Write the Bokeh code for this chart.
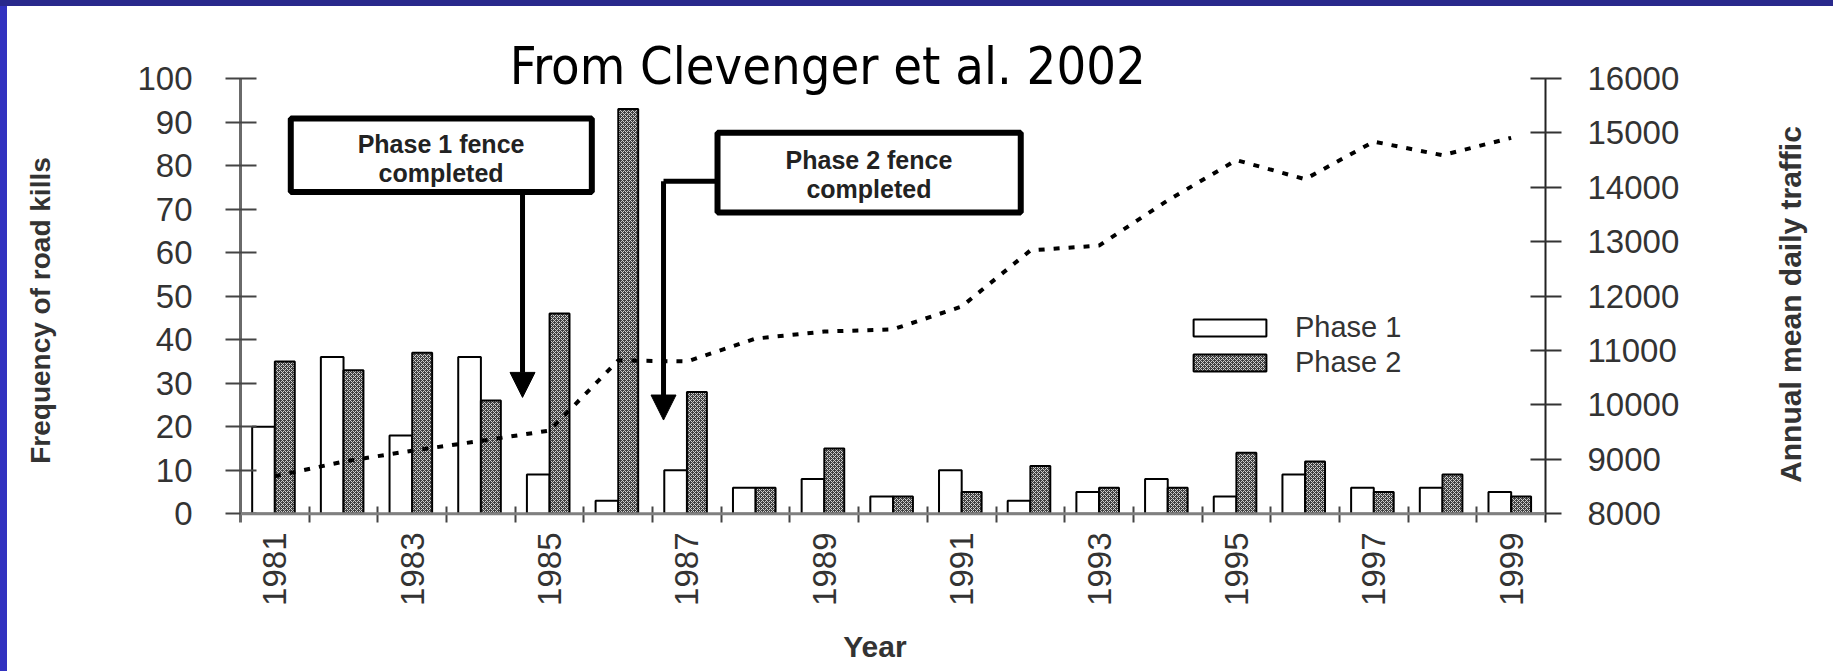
import numpy as np
from bokeh.plotting import figure
from bokeh.layouts import column, row
from bokeh.models import (Range1d, LinearAxis, FixedTicker, Span, BoxAnnotation, Label,
                          Arrow, NormalHead, Legend, LegendItem, ColumnDataSource,
                          NumeralTickFormatter, Div)
from bokeh.transform import dodge
from bokeh.embed import file_html
from bokeh.resources import INLINE

# ---------------- data ----------------
years = list(range(1981, 2000))
phase1 = [20, 36, 18, 36, 9, 3, 10, 6, 8, 4, 10, 3, 5, 8, 4, 9, 6, 6, 5]
phase2 = [35, 33, 37, 26, 46, 93, 28, 6, 15, 4, 5, 11, 6, 6, 14, 12, 5, 9, 4]
traffic = [8690, 8960, 9160, 9340, 9530, 10820, 10800, 11220, 11350, 11390,
           11810, 12840, 12930, 13760, 14500, 14150, 14840, 14590, 14910]
label_years = years[::2]
left_ticks = list(range(0, 101, 10))
right_ticks = list(range(8000, 16001, 1000))

FONT = "Liberation Sans"
TXT = "#333333"
H = 665          # height below the top band
MAIN_H = 614     # main plot height (rest is the "Year" strip)

src = ColumnDataSource(dict(year=years, phase1=phase1, phase2=phase2, traffic=traffic))

YTOP = 111.03
p = figure(width=1660, height=MAIN_H, output_backend="svg", toolbar_location=None,
           x_range=Range1d(1980.5, 1999.5), y_range=Range1d(-2, YTOP),
           min_border_left=160, min_border_right=195, min_border_top=24,
           min_border_bottom=MAIN_H - 24 - 492)
p.extra_y_ranges = {"traffic": Range1d(7840, 16000 + (YTOP - 100) * 80)}
p.outline_line_color = None
p.xgrid.visible = False
p.ygrid.visible = False

# ---- x axis ----
xa = p.xaxis[0]
xa.ticker = FixedTicker(ticks=label_years, minor_ticks=[y + 0.5 for y in years[:-1]])
xa.major_label_overrides = {y: str(y) for y in label_years}
xa.major_tick_in = 0
xa.major_tick_out = 0
xa.minor_tick_in = 16
xa.minor_tick_out = 0
xa.minor_tick_line_color = "#444444"
xa.minor_tick_line_width = 2
xa.axis_line_color = None
xa.major_label_orientation = np.pi / 2
xa.major_label_standoff = 10
xa.major_label_text_font = FONT
xa.major_label_text_font_size = "33px"
xa.major_label_text_color = TXT

# ---- left axis ----
ya = p.yaxis[0]
ya.ticker = FixedTicker(ticks=left_ticks)
ya.bounds = (-2, 100)
ya.major_tick_in = 16
ya.major_tick_out = 15
ya.major_tick_line_color = "#444444"
ya.major_tick_line_width = 2
ya.minor_tick_line_color = None
ya.axis_line_color = "#6a6a6a"
ya.axis_line_width = 3
ya.major_label_standoff = 33
ya.major_label_text_font = FONT
ya.major_label_text_font_size = "33px"
ya.major_label_text_color = TXT

# ---- right axis ----
ra = LinearAxis(y_range_name="traffic", ticker=FixedTicker(ticks=right_ticks),
                formatter=NumeralTickFormatter(format="0"))
ra.bounds = (7840, 16000)
ra.major_tick_in = 15
ra.major_tick_out = 16
ra.major_tick_line_color = "#333333"
ra.major_tick_line_width = 2
ra.minor_tick_line_color = None
ra.axis_line_color = "#222222"
ra.axis_line_width = 2
ra.major_label_standoff = 26
ra.major_label_text_font = FONT
ra.major_label_text_font_size = "33px"
ra.major_label_text_color = TXT
p.add_layout(ra, "right")

# baseline at zero
p.add_layout(Span(location=0, dimension="width", line_color="#808080", line_width=3))

# ---- bars ----
r1 = p.vbar(x=dodge("year", -0.165, range=p.x_range), top="phase1", width=0.33,
            source=src, fill_color="white", line_color="black", line_width=2)
r2 = p.vbar(x=dodge("year", 0.145, range=p.x_range), top="phase2", width=0.29,
            source=src, fill_color="#404040", hatch_pattern="diagonal_cross",
            hatch_color="#cfcfcf", hatch_scale=4, hatch_weight=1,
            line_color="black", line_width=2)

# ---- traffic line ----
p.line("year", "traffic", source=src, y_range_name="traffic", line_color="black",
       line_width=4, line_dash="6 9")

# ---- annotation boxes & arrows ----
BOX_FONT_SIZE = "25px"
box1 = dict(left=1981.232, right=1985.615, top=90.8, bottom=73.95)
box2 = dict(left=1987.445, right=1991.86, top=87.52, bottom=69.2)
for b in (box1, box2):
    p.add_layout(BoxAnnotation(fill_color="white", fill_alpha=1, line_color="black",
                               line_width=6, line_alpha=1, **b))

for x, y, t in [(1983.42, 84.9, "Phase 1 fence"), (1983.42, 78.24, "completed"),
                (1989.65, 81.31, "Phase 2 fence"), (1989.65, 74.71, "completed")]:
    p.add_layout(Label(x=x, y=y, text=t, text_align="center", text_baseline="alphabetic",
                       text_font=FONT, text_font_style="bold",
                       text_font_size=BOX_FONT_SIZE, text_color="#222222"))

p.add_layout(Arrow(end=NormalHead(size=25, fill_color="black", line_color="black"),
                   x_start=1984.606, y_start=73.95, x_end=1984.606, y_end=26.74,
                   line_width=5, line_color="black"))
p.add_layout(Arrow(end=None, x_start=1987.445, y_start=76.39, x_end=1986.659,
                   y_end=76.39, line_width=5, line_color="black"))
p.add_layout(Arrow(end=NormalHead(size=25, fill_color="black", line_color="black"),
                   x_start=1986.659, y_start=76.39, x_end=1986.659, y_end=21.54,
                   line_width=5, line_color="black"))

# ---- title ----
p.add_layout(Label(x=1989.05, y=102.77, text="From Clevenger et al. 2002",
                   text_align="center", text_baseline="alphabetic",
                   text_font="DejaVu Sans Condensed", text_font_size="52px",
                   text_color="black"))

# ---- legend ----
legend = Legend(items=[LegendItem(label="Phase 1", renderers=[r1]),
                       LegendItem(label="Phase 2", renderers=[r2])],
                location=(944, 143), glyph_width=91, glyph_height=21,
                label_standoff=20, spacing=2, padding=0, margin=0,
                border_line_color=None, background_fill_alpha=0,
                label_text_font=FONT, label_text_font_size="29px",
                label_text_color=TXT)
p.add_layout(legend)


# ---- plain panels holding the axis titles (page pixel coordinates) ----
def text_panel(x0, x1, y0, y1):
    f = figure(width=x1 - x0, height=y1 - y0, output_backend="svg",
               toolbar_location=None, x_range=Range1d(x0, x1), y_range=Range1d(y1, y0),
               x_axis_location=None, y_axis_location=None,
               min_border=0, outline_line_color=None)
    f.grid.visible = False
    return f


def axis_title(text, x, y, angle, size="30px"):
    return Label(x=x, y=y, text=text, angle=angle, text_align="center",
                 text_baseline="middle", text_font=FONT, text_font_style="bold",
                 text_font_size=size, text_color=TXT)


left_fig = text_panel(7, 80, 6, 6 + H)
left_fig.add_layout(axis_title("Frequency of road kills", 40, 310, np.pi / 2, "28px"))
right_fig = text_panel(1740, 1833, 6, 6 + H)
right_fig.add_layout(axis_title("Annual mean daily traffic", 1790, 304, np.pi / 2))
bottom_fig = text_panel(80, 1740, 6 + MAIN_H, 6 + H)
bottom_fig.add_layout(axis_title("Year", 887, 646, 0))

# ---- slide frame (blue edges) ----
top_band = Div(text="", width=1833, height=6, margin=0,
               styles={"background-color": "#29298c"})
left_band = Div(text="", width=7, height=H, margin=0,
                styles={"background-color": "#3232c0"})
center = column(p, bottom_fig, spacing=0)
page = column(top_band, row(left_band, left_fig, center, right_fig, spacing=0), spacing=0)

open("out.html", "w").write(file_html(page, INLINE))
